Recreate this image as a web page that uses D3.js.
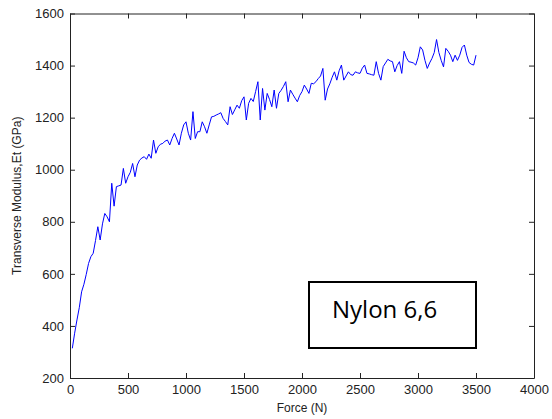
<!DOCTYPE html>
<html>
<head>
<meta charset="utf-8">
<script src="https://cdn.jsdelivr.net/npm/d3@7"></script>
<style>
  body { margin: 0; background: #fff; }
  svg { display: block; }
  .axis text { font-family: "Liberation Sans", Arial, sans-serif; font-size: 13px; fill: #222; }
  .axis path, .axis line { stroke: #222; }
</style>
</head>
<body>
<svg width="552" height="419"></svg>
<script>
// transverse modulus (GPa), one sample every 20 N from 20 N to 3500 N
var modulus = [
  314, 372, 423, 470, 531, 560, 598, 640, 666, 679,
  728, 781, 730, 792, 832, 819, 800, 948, 860, 935,
  938, 941, 1005, 948, 973, 990, 1024, 973, 1018, 1037,
  1045, 1050, 1040, 1060, 1044, 1114, 1063, 1088, 1098, 1101,
  1110, 1114, 1095, 1120, 1140, 1118, 1095, 1140, 1172, 1184,
  1140, 1114, 1223, 1120, 1146, 1146, 1184, 1165, 1140, 1172,
  1203, 1205, 1210, 1214, 1219, 1197, 1185, 1172, 1242, 1212,
  1230, 1248, 1236, 1265, 1280, 1191, 1255, 1274, 1262, 1300,
  1338, 1191, 1312, 1229, 1293, 1270, 1242, 1306, 1236, 1293,
  1305, 1320, 1338, 1261, 1306, 1290, 1275, 1261, 1285, 1300,
  1325, 1310, 1293, 1332, 1330, 1338, 1350, 1360, 1389, 1267,
  1310, 1330, 1355, 1376, 1344, 1380, 1402, 1344, 1360, 1376,
  1365, 1363, 1376, 1372, 1370, 1390, 1402, 1370, 1368, 1365,
  1363, 1415, 1370, 1344, 1396, 1410, 1424, 1418, 1415, 1376,
  1400, 1415, 1370, 1455, 1430, 1415, 1413, 1410, 1402, 1430,
  1472, 1460, 1420, 1389, 1410, 1427, 1450, 1500, 1450, 1420,
  1395, 1466, 1455, 1440, 1415, 1440, 1420, 1440, 1470, 1479,
  1440, 1412, 1405, 1402, 1440
];
var force = d3.range(20, 3501, 20);

var xTicks = [0, 500, 1000, 1500, 2000, 2500, 3000, 3500, 4000];
var yTicks = [200, 400, 600, 800, 1000, 1200, 1400, 1600];
var xLabel = "Force (N)";
var yLabel = "Transverse Modulus,Et (GPa)";
var legendText = "Nylon 6,6";

var svg = d3.select("svg");
var plotLeft = 70, plotRight = 534, plotTop = 13.5, plotBottom = 378;

var x = d3.scaleLinear().domain([0, 4000]).range([plotLeft, plotRight]);
var y = d3.scaleLinear().domain([200, 1600]).range([plotBottom, plotTop]);
var fmt = d3.format("d");

// box axes, ticks pointing inward (matlab style)
svg.append("g").attr("class", "axis")
    .attr("transform", "translate(0," + plotBottom + ")")
    .call(d3.axisBottom(x).tickValues(xTicks).tickFormat(fmt).tickSizeInner(-5).tickSizeOuter(0).tickPadding(7));
svg.append("g").attr("class", "axis")
    .attr("transform", "translate(0," + plotTop + ")")
    .call(d3.axisTop(x).tickValues(xTicks).tickSizeInner(-5).tickSizeOuter(0).tickFormat(""));
svg.append("g").attr("class", "axis")
    .attr("transform", "translate(" + plotLeft + ",0)")
    .call(d3.axisLeft(y).tickValues(yTicks).tickFormat(fmt).tickSizeInner(-5).tickSizeOuter(0).tickPadding(6));
svg.append("g").attr("class", "axis")
    .attr("transform", "translate(" + plotRight + ",0)")
    .call(d3.axisRight(y).tickValues(yTicks).tickSizeInner(-5).tickSizeOuter(0).tickFormat(""));

var line = d3.line()
    .x(function(d, i) { return x(force[i]); })
    .y(function(d) { return y(d); });

svg.append("path")
    .datum(modulus)
    .attr("fill", "none")
    .attr("stroke", "#0000ff")
    .attr("stroke-width", 1)
    .attr("d", line);

svg.append("text")
    .attr("x", (plotLeft + plotRight) / 2)
    .attr("y", 412)
    .attr("text-anchor", "middle")
    .style("font-family", "Liberation Sans, Arial, sans-serif")
    .style("font-size", "12px")
    .style("fill", "#222")
    .text(xLabel);

svg.append("text")
    .attr("transform", "translate(21," + (plotTop + plotBottom) / 2 + ") rotate(-90)")
    .attr("text-anchor", "middle")
    .style("font-family", "Liberation Sans, Arial, sans-serif")
    .style("font-size", "12px")
    .style("fill", "#222")
    .text(yLabel);

// text box
svg.append("rect")
    .attr("x", 309).attr("y", 282)
    .attr("width", 167).attr("height", 66)
    .attr("fill", "#fff")
    .attr("stroke", "#000")
    .attr("stroke-width", 2);

svg.append("text")
    .attr("x", 332).attr("y", 318)
    .style("font-family", "Open Sans, sans-serif")
    .style("font-size", "24px")
    .style("fill", "#000")
    .text(legendText);
</script>
</body>
</html>
